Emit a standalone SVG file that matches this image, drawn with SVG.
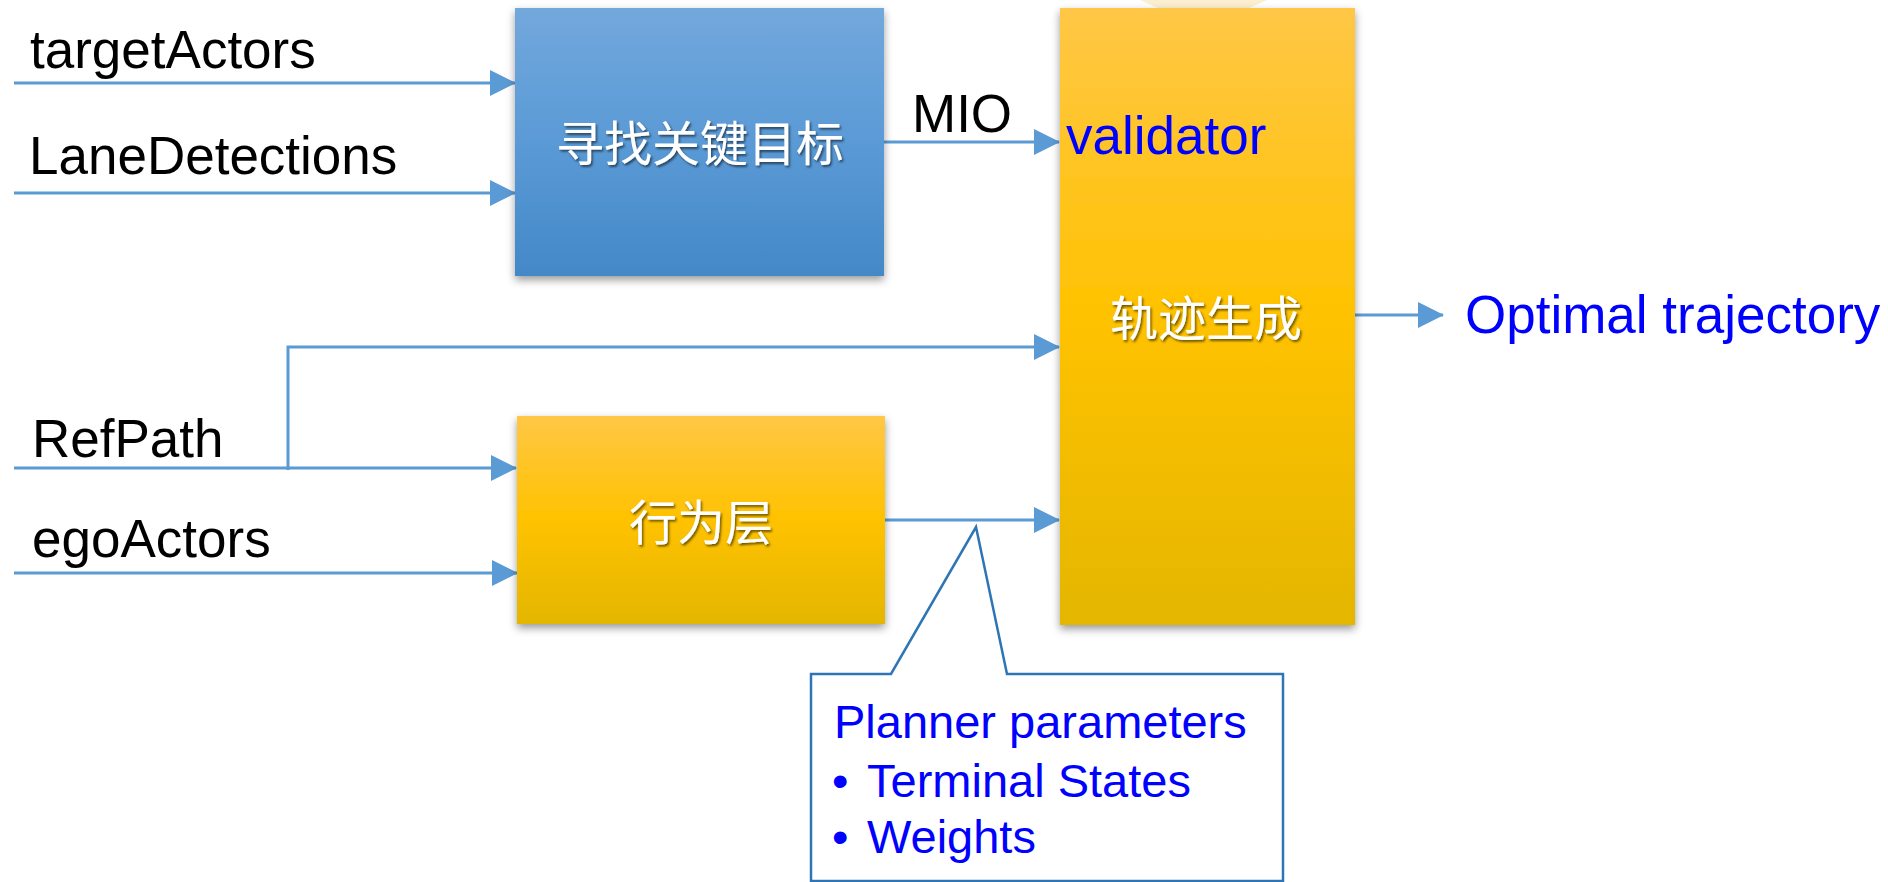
<svg xmlns="http://www.w3.org/2000/svg" width="1888" height="882" viewBox="0 0 1888 882">
  <style>
    .lbl { font-family: "Liberation Sans", Arial, sans-serif; font-size: 53px; fill: #000000; }
    .blue { fill: #0000FF; }
    .note { font-family: "Liberation Sans", Arial, sans-serif; font-size: 47px; fill: #0000FF; }
    .cjk { font-family: "Noto Sans CJK SC", sans-serif; font-size: 48px; fill: #FFFFFF; text-anchor: middle; }
    .wire { fill: none; stroke: #5B9BD5; stroke-width: 3; }
  </style>
  <defs>
    <linearGradient id="gradBlue" x1="0" y1="0" x2="0" y2="1">
      <stop offset="0" stop-color="#72A8DC"/>
      <stop offset="0.5" stop-color="#5A9AD6"/>
      <stop offset="1" stop-color="#4488C8"/>
    </linearGradient>
    <linearGradient id="gradGold" x1="0" y1="0" x2="0" y2="1">
      <stop offset="0" stop-color="#FFC746"/>
      <stop offset="0.5" stop-color="#FFC200"/>
      <stop offset="1" stop-color="#E4B600"/>
    </linearGradient>
    <filter id="boxShadow" x="-10%" y="-10%" width="120%" height="120%">
      <feDropShadow dx="0" dy="4" stdDeviation="4" flood-color="#000000" flood-opacity="0.4"/>
    </filter>
    <filter id="textShadow" x="-10%" y="-20%" width="120%" height="140%">
      <feDropShadow dx="1.5" dy="2" stdDeviation="1" flood-color="#000000" flood-opacity="0.55"/>
    </filter>
    <marker id="arrow" markerUnits="userSpaceOnUse" markerWidth="26" markerHeight="28" refX="25" refY="13" orient="auto">
      <path d="M0,0 L26,13 L0,26 Z" fill="#5B9BD5"/>
    </marker>
  </defs>

  <!-- pale glow peeking above the trajectory block -->
  <polygon points="1140,0 1267,0 1247,9 1160,9" fill="#FCEFCF"/>

  <!-- connectors -->
  <g id="connectors">
    <line class="wire" x1="14" y1="83" x2="515" y2="83" marker-end="url(#arrow)"/>
    <line class="wire" x1="14" y1="193" x2="515" y2="193" marker-end="url(#arrow)"/>
    <line class="wire" x1="884" y1="142" x2="1059" y2="142" marker-end="url(#arrow)"/>
    <path class="wire" d="M288,470 V347 H1059" marker-end="url(#arrow)"/>
    <line class="wire" x1="14" y1="468" x2="516" y2="468" marker-end="url(#arrow)"/>
    <line class="wire" x1="14" y1="573" x2="517" y2="573" marker-end="url(#arrow)"/>
    <line class="wire" x1="885" y1="520" x2="1059" y2="520" marker-end="url(#arrow)"/>
    <line class="wire" x1="1355" y1="315" x2="1443" y2="315" marker-end="url(#arrow)"/>
  </g>

  <!-- input / output labels -->
  <g id="labels">
    <text class="lbl" x="30" y="68">targetActors</text>
    <text class="lbl" x="29" y="174">LaneDetections</text>
    <text class="lbl" x="32" y="457">RefPath</text>
    <text class="lbl" x="32" y="557">egoActors</text>
    <text class="lbl" x="912" y="132">MIO</text>
    <text class="lbl blue" x="1465" y="333">Optimal trajectory</text>
  </g>

  <!-- key target finder -->
  <g id="node-mio">
    <rect x="515" y="8" width="369" height="268" fill="url(#gradBlue)" filter="url(#boxShadow)"/>
    <text class="cjk" x="700" y="161" filter="url(#textShadow)">寻找关键目标</text>
  </g>

  <!-- behaviour layer -->
  <g id="node-behavior">
    <rect x="517" y="416" width="368" height="208" fill="url(#gradGold)" filter="url(#boxShadow)"/>
    <text class="cjk" x="701" y="540" filter="url(#textShadow)">行为层</text>
  </g>

  <!-- trajectory generation -->
  <g id="node-trajectory">
    <rect x="1060" y="8" width="295" height="617" fill="url(#gradGold)" filter="url(#boxShadow)"/>
    <text class="lbl blue" x="1066" y="154">validator</text>
    <text class="cjk" x="1206" y="336" filter="url(#textShadow)">轨迹生成</text>
  </g>

  <!-- planner parameters callout -->
  <g id="node-callout">
    <path d="M811,674 H891 L976,527 L1007,674 H1283 V881 H811 Z" fill="#FFFFFF" stroke="#2E75B6" stroke-width="2.5" stroke-linejoin="miter"/>
    <text class="note" x="834" y="738">Planner parameters</text>
    <text class="note" x="832" y="797">•</text>
    <text class="note" x="867" y="797">Terminal States</text>
    <text class="note" x="832" y="853">•</text>
    <text class="note" x="867" y="853">Weights</text>
  </g>
</svg>
